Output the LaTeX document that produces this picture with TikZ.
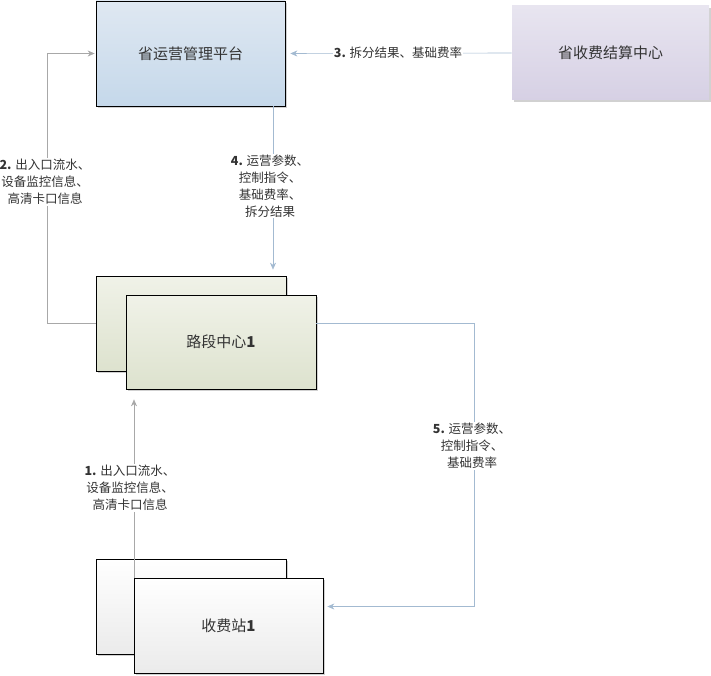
\documentclass[tikz,border=0pt]{standalone}
\usepackage{fontspec}
\setmainfont{Noto Sans CJK SC}
\usetikzlibrary{arrows.meta,shadows}
\definecolor{lineblue}{HTML}{A3BAD1}
\definecolor{linegray}{HTML}{A8A8A8}
\definecolor{txtgray}{HTML}{333333}
\tikzset{
	box/.style={draw=black, line width=0.7pt, inner sep=0pt, text=txtgray,
		font=\fontsize{15}{18}\selectfont,
		drop shadow={shadow xshift=2pt, shadow yshift=-2pt, fill=black!30, opacity=0.6}},
	lbl/.style={fill=white, inner sep=1pt, align=center, text=txtgray,
		font=\fontsize{12.5}{17}\selectfont},
	bluearrow/.style={draw=lineblue, line width=0.6pt, -{Stealth[length=7pt,width=6pt]}},
	grayarrow/.style={draw=linegray, line width=0.6pt, -{Stealth[length=7pt,width=6pt]}},
}
\begin{document}
\begin{tikzpicture}[x=1pt, y=-1pt]
	\useasboundingbox (0,0) rectangle (711,676);
	
	%top row
	\node (plat) at (190.5,53.5) [box, minimum width=189pt, minimum height=105pt,
		top color={rgb,255:red,223;green,232;blue,242}, bottom color={rgb,255:red,197;green,216;blue,234}]{省运营管理平台};
	\node (settle) at (610.5,53) [box, draw=none, minimum width=197pt, minimum height=94pt,
		top color={rgb,255:red,232;green,229;blue,240}, bottom color={rgb,255:red,214;green,208;blue,228}]{省收费结算中心};
	
	%road centre
	\node (roadback) at (191,323.5) [box, minimum width=190pt, minimum height=95pt,
		top color={rgb,255:red,240;green,242;blue,232}, bottom color={rgb,255:red,221;green,226;blue,206}]{};
	\node (roadfront) at (221,342) [box, minimum width=190pt, minimum height=94pt,
		top color={rgb,255:red,240;green,242;blue,232}, bottom color={rgb,255:red,221;green,226;blue,206}]{路段中心\textbf{1}};
	
	%toll station
	\node (stationback) at (191,606.5) [box, minimum width=190pt, minimum height=95pt,
		top color=white, bottom color=black!8]{};
	\draw[linegray, line width=0.6pt] (stationback.north -| 134,0) -- (134,578);
	\node (stationfront) at (228.5,625.5) [box, minimum width=189pt, minimum height=95pt,
		top color=white, bottom color=black!8]{收费站\textbf{1}};
	
	%connectors
	\draw[bluearrow, shorten >=5pt] (settle.west) -- (plat.east);
	\draw[bluearrow, shorten >=6pt] ([xshift=82.5pt]plat.south) -- ([xshift=82pt]roadback.north);
	\draw[grayarrow, shorten >=1pt] (roadback.west) -- ++(-48,0) |- (plat.west);
	\draw[bluearrow, shorten >=4pt] (roadfront.east |- roadback.east) -- ++(158,0) |- (stationfront.east |- stationback.east);
	\draw[grayarrow, shorten >=10pt] (134,578) -- (roadfront.south -| 134,0);
	
	%labels
	\node (lbl3) at (398,53) [lbl]{\textbf{3.} 拆分结果、基础费率};
	\node (lbl4) at (270,186) [lbl]{\textbf{4.} 运营参数、\\控制指令、\\基础费率、\\拆分结果};
	\node (lbl2) at (45,182) [lbl]{\textbf{2.} 出入口流水、\\设备监控信息、\\高清卡口信息};
	\node (lbl5) at (472,446) [lbl]{\textbf{5.} 运营参数、\\控制指令、\\基础费率};
	\node (lbl1) at (130,488) [lbl]{\textbf{1.} 出入口流水、\\设备监控信息、\\高清卡口信息};
\end{tikzpicture}
\end{document}
